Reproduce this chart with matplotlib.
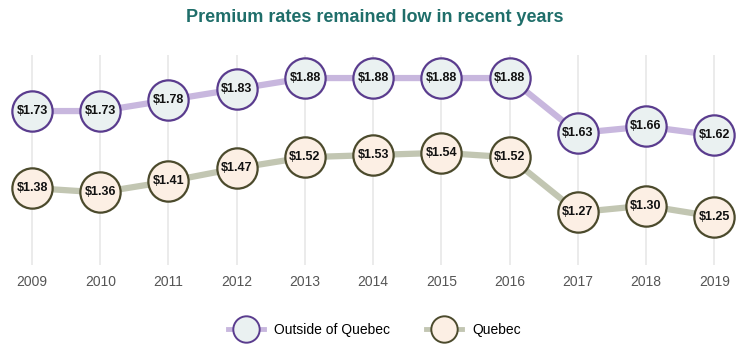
import matplotlib.pyplot as plt
from matplotlib.lines import Line2D

years = [2009, 2010, 2011, 2012, 2013, 2014, 2015, 2016, 2017, 2018, 2019]
outside = [1.73, 1.73, 1.78, 1.83, 1.88, 1.88, 1.88, 1.88, 1.63, 1.66, 1.62]
quebec = [1.38, 1.36, 1.41, 1.47, 1.52, 1.53, 1.54, 1.52, 1.27, 1.30, 1.25]

plt.rcParams['font.family'] = ['Liberation Sans', 'DejaVu Sans']

fig = plt.figure(figsize=(7.49, 3.57), dpi=100)
ax = fig.add_axes([0, (357 - 265) / 357, 1, 225 / 357])
ax.set_xlim(2008.53, 2019.51)
ax.set_ylim(1.03, 2.053)

# faint vertical guides
ax.vlines(years, 1.03, 1.985, color="#e8e8e8", lw=1.2, zorder=0)

out_line = "#c8b7de"
out_edge = "#5a3c8e"
out_face = "#eaf1f1"
qc_line = "#c2c6b2"
qc_edge = "#4b4a2c"
qc_face = "#fcefe4"

ax.plot(years, outside, color=out_line, lw=4.5, zorder=1)
ax.plot(years, quebec, color=qc_line, lw=4.5, zorder=1)
ax.plot(years, outside, "o", ms=29, mfc=out_face, mec=out_edge, mew=1.6, zorder=2)
ax.plot(years, quebec, "o", ms=29, mfc=qc_face, mec=qc_edge, mew=1.6, zorder=2)

for x, v in zip(years, outside):
    ax.text(x, v, "\\$%.2f" % v, ha="center", va="center", fontsize=9,
            fontweight="bold", color="#111111", zorder=3)
for x, v in zip(years, quebec):
    ax.text(x, v, "\\$%.2f" % v, ha="center", va="center", fontsize=9,
            fontweight="bold", color="#111111", zorder=3)

ax.axis("off")

for x in years:
    fig.text((x - 2008.53) / (2019.51 - 2008.53), 1 - 282 / 357, str(x),
             ha="center", va="center", fontsize=10, color="#555555")

fig.text(0.5, 1 - 17 / 357, "Premium rates remained low in recent years",
         ha="center", va="center", fontsize=13, fontweight="bold",
         color="#1f6e6a")

h1 = Line2D([], [], color=out_line, lw=3.5, marker="o", ms=19, mfc=out_face,
            mec=out_edge, mew=1.4)
h2 = Line2D([], [], color=qc_line, lw=3.5, marker="o", ms=19, mfc=qc_face,
            mec=qc_edge, mew=1.4)
fig.legend([h1, h2], ["Outside of Quebec", "Quebec"], loc="center",
           bbox_to_anchor=(0.5, 1 - 330 / 357), ncol=2, frameon=False,
           fontsize=10, handlelength=2.6, columnspacing=2.6, handletextpad=0.7)

fig.savefig("out.png", dpi=100)
